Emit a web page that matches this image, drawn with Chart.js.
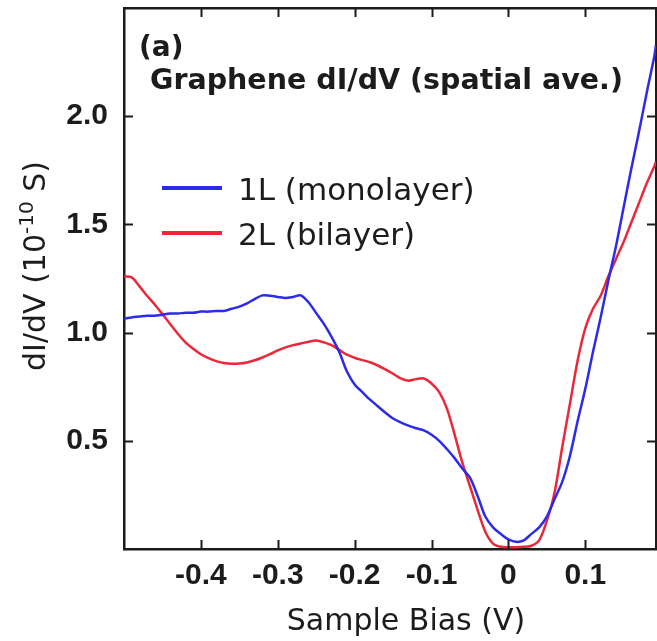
<!DOCTYPE html>
<html><head><meta charset="utf-8">
<script src="https://cdn.jsdelivr.net/npm/chart.js@4/dist/chart.umd.min.js"></script>
<style>html,body{margin:0;padding:0;background:#fff;}canvas{display:block;}</style>
</head><body>
<canvas id="c" width="657" height="641" style="width:657px;height:641px"></canvas>
<script>
// ---- data ----
const biasV = [-0.50,-0.49,-0.48,-0.47,-0.46,-0.45,-0.44,-0.43,-0.42,-0.41,
  -0.40,-0.39,-0.38,-0.37,-0.36,-0.35,-0.34,-0.33,-0.32,-0.31,
  -0.30,-0.29,-0.28,-0.27,-0.26,-0.25,-0.24,-0.23,-0.22,-0.21,
  -0.20,-0.19,-0.18,-0.17,-0.16,-0.15,-0.14,-0.13,-0.12,-0.11,
  -0.10,-0.09,-0.08,-0.07,-0.06,-0.05,-0.04,-0.03,-0.02,-0.01,
  0.00,0.01,0.02,0.03,0.04,0.05,0.06,0.07,0.08,0.09,
  0.10,0.11,0.12,0.13,0.14,0.15,0.16,0.17,0.18,0.19,0.192];
const dIdV_1L = [1.065,1.07,1.074,1.078,1.078,1.083,1.088,1.088,1.092,1.092,
  1.097,1.097,1.10,1.10,1.11,1.12,1.135,1.155,1.172,1.17,
  1.165,1.16,1.165,1.172,1.14,1.09,1.04,0.98,0.91,0.82,
  0.76,0.725,0.69,0.66,0.63,0.603,0.585,0.57,0.558,0.548,
  0.528,0.50,0.462,0.42,0.372,0.33,0.245,0.15,0.10,0.07,
  0.045,0.033,0.04,0.07,0.10,0.15,0.23,0.31,0.43,0.59,
  0.74,0.91,1.07,1.24,1.40,1.58,1.76,1.93,2.11,2.28,2.33];
const dIdV_2L = [1.26,1.255,1.215,1.17,1.13,1.085,1.04,0.995,0.955,0.925,
  0.90,0.882,0.868,0.86,0.856,0.857,0.862,0.872,0.885,0.90,
  0.918,0.932,0.942,0.95,0.958,0.963,0.955,0.942,0.92,0.898,
  0.884,0.873,0.863,0.848,0.83,0.81,0.788,0.778,0.785,0.788,
  0.765,0.725,0.65,0.53,0.40,0.29,0.18,0.08,0.025,0.01,
  0.008,0.008,0.01,0.015,0.04,0.13,0.26,0.47,0.67,0.87,
  1.02,1.11,1.17,1.26,1.34,1.42,1.51,1.60,1.69,1.77,1.79];
const seriesNames = ['1L (monolayer)', '2L (bilayer)'];
const xTickValues = [-0.4, -0.3, -0.2, -0.1, 0, 0.1];
const xTickLabels = ['-0.4', '-0.3', '-0.2', '-0.1', '0', '0.1'];
const yTickValues = [0.5, 1.0, 1.5, 2.0];
const yTickLabels = ['0.5', '1.0', '1.5', '2.0'];
const panelLabel = '(a)';
const chartTitle = 'Graphene dI/dV (spatial ave.)';
const xTitle = 'Sample Bias (V)';
const yTitleParts = ['dI/dV (10', '-10', ' S)'];

// ---- styles ----
const BLUE = '#2b2be8', RED = '#e9293a', INK = '#1c1c1c';
const tickFont = {family: '"Liberation Sans", Arial, sans-serif', size: 30, weight: 'bold'};

const noGrid = {display: false, drawTicks: false};
const frameBorder = {display: true, color: INK, width: 2.5};
function fixSize(prop, val) {
  return s => { s[prop] = val; s.paddingTop = 0; s.paddingBottom = 0; s.paddingLeft = 0; s.paddingRight = 0; };
}

const annotate = {
  id: 'annotate',
  afterDatasetsDraw(chart) {
    const ctx = chart.ctx, a = chart.chartArea;
    const xs = chart.scales.x, ys = chart.scales.y;
    ctx.save();
    // inward tick marks on all four sides
    ctx.strokeStyle = INK; ctx.lineWidth = 2;
    ctx.beginPath();
    xTickValues.forEach(v => {
      const px = Math.round(xs.getPixelForValue(v)) + 0.5;
      ctx.moveTo(px, a.bottom); ctx.lineTo(px, a.bottom - 9);
      ctx.moveTo(px, a.top); ctx.lineTo(px, a.top + 9);
    });
    yTickValues.forEach(v => {
      const py = Math.round(ys.getPixelForValue(v)) + 0.5;
      ctx.moveTo(a.left, py); ctx.lineTo(a.left + 9, py);
      ctx.moveTo(a.right, py); ctx.lineTo(a.right - 9, py);
    });
    ctx.stroke();

    ctx.fillStyle = INK;
    ctx.textAlign = 'left'; ctx.textBaseline = 'alphabetic';
    ctx.font = 'bold 28px "DejaVu Sans"';
    ctx.fillText(panelLabel, 139, 56);
    ctx.font = 'bold 28.5px "DejaVu Sans"';
    ctx.fillText(chartTitle, 150, 89);

    // legend
    const legY = [188, 233];
    chart.data.datasets.forEach((ds, i) => {
      ctx.strokeStyle = ds.borderColor; ctx.lineWidth = 4;
      ctx.beginPath(); ctx.moveTo(162, legY[i]); ctx.lineTo(222, legY[i]); ctx.stroke();
      ctx.fillStyle = INK; ctx.font = '31px "DejaVu Sans"';
      ctx.fillText(ds.label, 238, legY[i] + 12);
    });

    // x axis title
    ctx.font = '30px "DejaVu Sans"'; ctx.textAlign = 'center';
    ctx.fillText(xTitle, 406, 630);

    // y axis title (rotated, with superscript)
    ctx.translate(45, 266); ctx.rotate(-Math.PI / 2);
    ctx.textAlign = 'left';
    const fMain = '30px "DejaVu Sans"', fSup = '20px "DejaVu Sans"';
    ctx.font = fMain; const w0 = ctx.measureText(yTitleParts[0]).width, w2 = ctx.measureText(yTitleParts[2]).width;
    ctx.font = fSup; const w1 = ctx.measureText(yTitleParts[1]).width;
    let x0 = -(w0 + w1 + w2) / 2;
    ctx.font = fMain; ctx.fillText(yTitleParts[0], x0, 0);
    ctx.font = fSup; ctx.fillText(yTitleParts[1], x0 + w0, -12);
    ctx.font = fMain; ctx.fillText(yTitleParts[2], x0 + w0 + w1, 0);
    ctx.restore();
  }
};

new Chart(document.getElementById('c'), {
  type: 'line',
  data: {
    datasets: [
      {label: seriesNames[0], data: biasV.map((v, i) => ({x: v, y: dIdV_1L[i]})),
       borderColor: BLUE, borderWidth: 2.5, pointRadius: 0, tension: 0.3, fill: false},
      {label: seriesNames[1], data: biasV.map((v, i) => ({x: v, y: dIdV_2L[i]})),
       borderColor: RED, borderWidth: 2.5, pointRadius: 0, tension: 0.3, fill: false}
    ]
  },
  options: {
    responsive: false, animation: false, devicePixelRatio: 1,
    layout: {padding: 0},
    plugins: {legend: {display: false}, tooltip: {enabled: false}, title: {display: false}},
    scales: {
      x: {type: 'linear', position: 'bottom', min: -0.5, max: 0.192,
        afterBuildTicks: s => { s.ticks = xTickValues.map(v => ({value: v})); },
        afterFit: fixSize('height', 92),
        ticks: {callback: (v) => xTickLabels[xTickValues.indexOf(v)], font: tickFont, color: INK,
          padding: 9, maxRotation: 0, autoSkip: false},
        grid: noGrid, border: frameBorder},
      x2: {type: 'linear', position: 'top', min: -0.5, max: 0.192,
        afterFit: fixSize('height', 8),
        ticks: {display: false}, grid: noGrid, border: frameBorder},
      y: {type: 'linear', position: 'left', min: 0, max: 2.5,
        afterBuildTicks: s => { s.ticks = yTickValues.map(v => ({value: v})); },
        afterFit: fixSize('width', 124),
        ticks: {callback: (v) => yTickLabels[yTickValues.indexOf(v)], font: tickFont, color: INK,
          padding: 16, autoSkip: false},
        grid: noGrid, border: frameBorder},
      y2: {type: 'linear', position: 'right', min: 0, max: 2.5,
        afterFit: fixSize('width', 1),
        ticks: {display: false}, grid: noGrid, border: frameBorder}
    }
  },
  plugins: [annotate]
});
</script>
</body></html>
